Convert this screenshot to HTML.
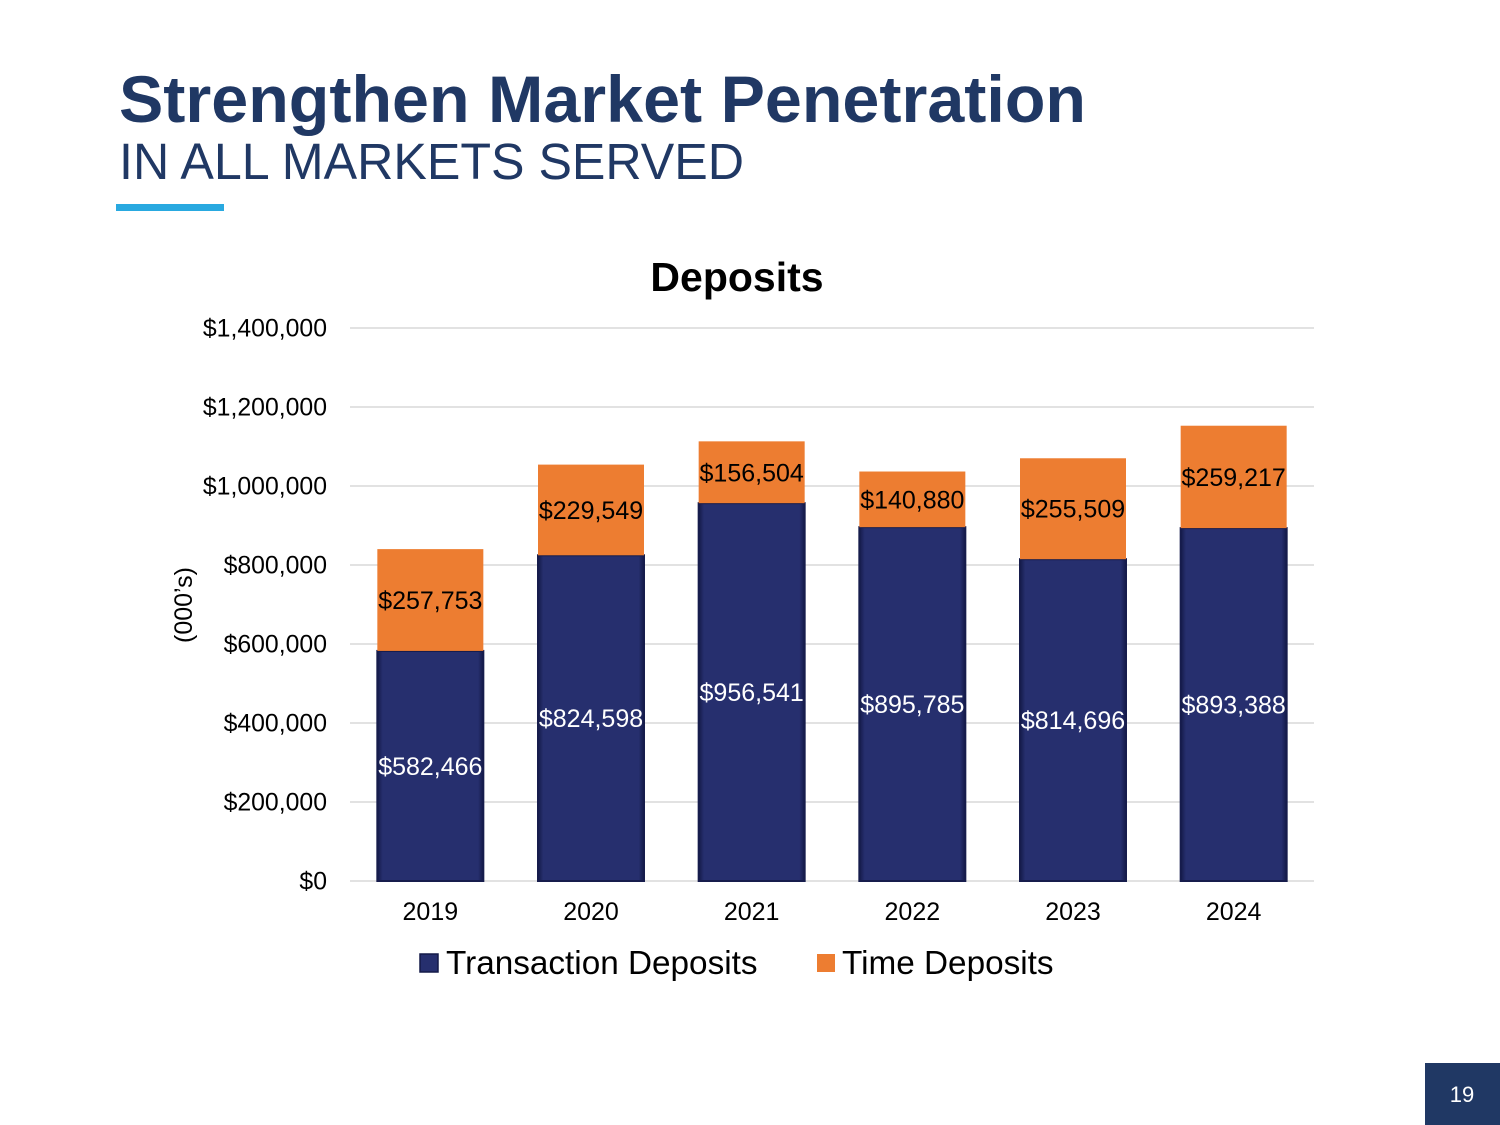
<!DOCTYPE html>
<html><head><meta charset="utf-8"><style>
html,body{margin:0;padding:0;background:#fff;}
svg{display:block;font-family:"Liberation Sans",Arial,sans-serif;}
</style></head><body>
<svg id="slide" width="1500" height="1125" viewBox="0 0 1500 1125">
<defs>
<linearGradient id="bevH" x1="0" x2="1" y1="0" y2="0">
<stop offset="0" stop-color="#141a48"/><stop offset="0.05" stop-color="#262f6e"/><stop offset="0.95" stop-color="#262f6e"/><stop offset="1" stop-color="#141a48"/>
</linearGradient>
</defs>
<text x="119" y="122" font-size="66" font-weight="bold" fill="#203864" textLength="967" lengthAdjust="spacingAndGlyphs">Strengthen Market Penetration</text>
<text x="119" y="179" font-size="51" fill="#203864" textLength="625" lengthAdjust="spacingAndGlyphs">IN ALL MARKETS SERVED</text>
<rect x="116" y="204" width="108" height="7" fill="#29a9e0"/>
<text x="737" y="291" font-size="41" font-weight="bold" text-anchor="middle" fill="#000">Deposits</text>
<text transform="translate(192,605) rotate(-90)" font-size="25" text-anchor="middle" fill="#000">(000’s)</text>
<g id="grid"></g>
<g id="bars"></g>
<g id="legend">
<rect x="420" y="954" width="18" height="18" fill="url(#bevH)" stroke="#141a48" stroke-width="1.5"/>
<text x="446" y="974" font-size="33.3" fill="#000">Transaction Deposits</text>
<rect x="817" y="954" width="18" height="18" fill="#ed7d31"/>
<text x="842" y="974" font-size="33.3" fill="#000">Time Deposits</text>
</g>
<rect x="1425" y="1063" width="75" height="62" fill="#203864"/>
<text x="1462" y="1102" font-size="22" fill="#fff" text-anchor="middle">19</text>
</svg>
<script>
const categories = ["2019","2020","2021","2022","2023","2024"];
const transactionDeposits = [582466, 824598, 956541, 895785, 814696, 893388];
const timeDeposits = [257753, 229549, 156504, 140880, 255509, 259217];
const yTicks = [0,200000,400000,600000,800000,1000000,1200000,1400000];
const yTickLabels = ["$0","$200,000","$400,000","$600,000","$800,000","$1,000,000","$1,200,000","$1,400,000"];

const NS="http://www.w3.org/2000/svg";
const plotL=350, plotR=1314, y0=881, yTop=328, yMax=1400000;
const yS=v=>y0-(v/yMax)*(y0-yTop);
const band=(plotR-plotL)/categories.length;
const xC=i=>plotL+band*(i+0.5);
const bw=106;
function mk(tag,attrs,parent){const e=document.createElementNS(NS,tag);for(const k in attrs)e.setAttribute(k,attrs[k]);parent.appendChild(e);return e;}
const grid=document.getElementById('grid'), bars=document.getElementById('bars');
yTicks.forEach((t,i)=>{
  const l=mk('line',{x1:plotL,x2:plotR,y1:yS(t),y2:yS(t),stroke:'#d9d9d9','stroke-width':1.5},grid);
  
  
  const tx=mk('text',{x:327,y:yS(t)+8.5,'font-size':24.8,'text-anchor':'end',fill:'#000'},grid);
  tx.textContent=yTickLabels[i];
  
  
});
categories.forEach((c,i)=>{
  const x=xC(i)-bw/2;
  const tTop=yS(transactionDeposits[i]);
  const oTop=yS(transactionDeposits[i]+timeDeposits[i]);
  const r1=mk('rect',{x:x,y:tTop,width:bw,height:y0-tTop,fill:'url(#bevH)',stroke:'#161c4c','stroke-width':2},bars);
  
  
  const r2=mk('rect',{x:x,y:oTop,width:bw,height:tTop-oTop,fill:'#ed7d31'},bars);
  
  
  const l1=mk('text',{x:xC(i),y:(tTop+y0)/2+9,'font-size':25,'text-anchor':'middle',fill:'#fff'},bars);
  l1.textContent='$'+transactionDeposits[i].toLocaleString('en-US');
  
  
  const l2=mk('text',{x:xC(i),y:(oTop+tTop)/2+9,'font-size':25,'text-anchor':'middle',fill:'#000'},bars);
  l2.textContent='$'+timeDeposits[i].toLocaleString('en-US');
  
  
  const xl=mk('text',{x:xC(i),y:920,'font-size':25,'text-anchor':'middle',fill:'#000'},bars);
  xl.textContent=c;
  
  
});
</script>
</body></html>
